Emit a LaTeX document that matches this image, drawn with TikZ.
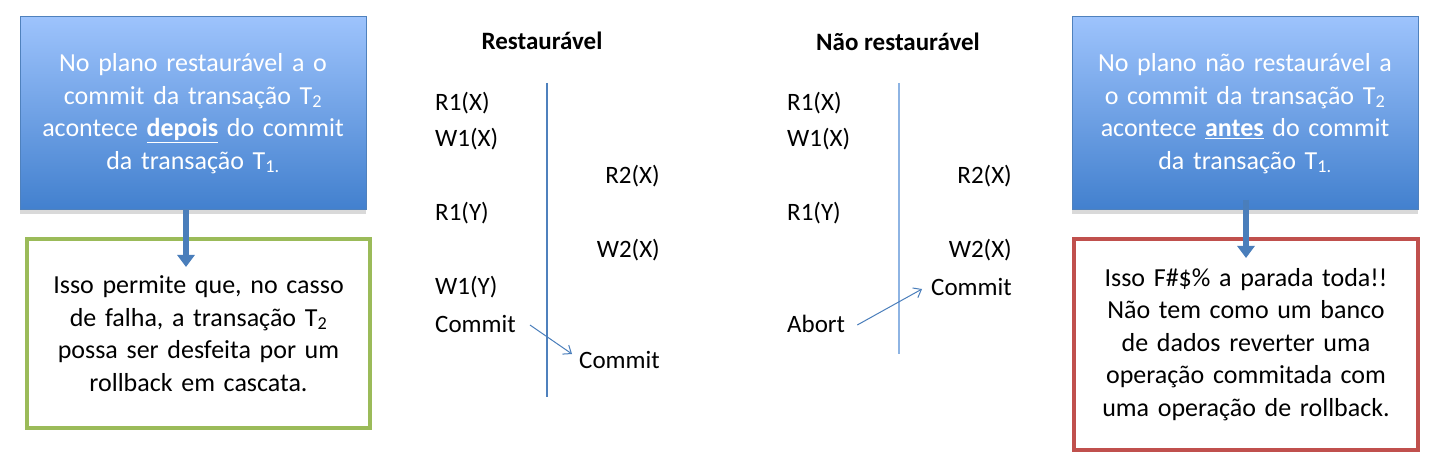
\documentclass[tikz,border=0pt]{standalone}
\usepackage{fontspec}
\setmainfont{Carlito}
\usetikzlibrary{arrows.meta,shadows}
\definecolor{boxtop}{RGB}{157,195,252}
\definecolor{boxbottom}{RGB}{66,128,206}
\definecolor{boxline}{RGB}{79,129,189}
\definecolor{okline}{RGB}{155,187,89}
\definecolor{badline}{RGB}{192,80,77}
\definecolor{flowarrow}{RGB}{74,126,187}
\definecolor{timeline}{RGB}{79,129,189}
\definecolor{timelinelight}{RGB}{142,180,227}
\begin{document}
\begin{tikzpicture}[x=1pt,y=-1pt,>={Straight Barb[length=7pt,width=11pt]}]
	\tikzstyle{planbox}=[rectangle,draw=boxline,line width=1pt,top color=boxtop,bottom color=boxbottom,text=white,minimum width=346pt,minimum height=193pt,text width=336pt,align=center,inner sep=0pt,font=\fontsize{26}{32.5}\selectfont,drop shadow={opacity=0.3,shadow xshift=0pt,shadow yshift=-4pt}]
	%\tikzstyle{planbox}=[rectangle,draw=boxline,fill=boxbottom,text=white,minimum width=346pt,minimum height=193pt]
	\tikzstyle{notebox}=[rectangle,line width=4pt,fill=white,text=black,text width=330pt,align=center,inner sep=0pt,font=\fontsize{26}{32.5}\selectfont]
	\tikzstyle{head}=[inner sep=0pt,font=\fontsize{25}{30}\selectfont\bfseries]
	\tikzstyle{op}=[inner sep=0pt,font=\fontsize{25}{30}\selectfont]
	\tikzstyle{flow}=[draw=flowarrow,line width=1pt]
	\tikzstyle{bigarrow}=[draw=flowarrow,line width=6pt,-{Triangle[length=12pt,width=17pt]}]
	\useasboundingbox (0,0) rectangle (1436,470);
	% boxes
	\node[planbox] (L-plan) at (193,113.5) {No plano restaurável a o\\commit da transação T\textsubscript{2}\\acontece \underline{\textbf{depois}} do commit\\da transação T\textsubscript{1.}};
	\node[notebox,draw=okline,minimum width=343pt,minimum height=189pt] (L-why) at (198.5,333.5) {Isso permite que, no casso\\de falha, a transação T\textsubscript{2}\\possa ser desfeita por um\\rollback em cascata.};
	\node[planbox] (R-plan) at (1245,113.5) {No plano não restaurável a\\o commit da transação T\textsubscript{2}\\acontece \underline{\textbf{antes}} do commit\\da transação T\textsubscript{1.}};
	\node[notebox,draw=badline,minimum width=344pt,minimum height=211pt] (R-why) at (1246,344.5) {Isso F\#\$\% a parada toda!!\\Não tem como um banco\\de dados reverter uma\\operação commitada com\\uma operação de rollback.};
	\coordinate (L-tip) at (186,267);
	\coordinate (R-from) at (1246,200);
	\coordinate (R-tip) at (1246,258);
	\draw[bigarrow] (L-plan.south -| L-tip) -- (L-tip);
	\draw[bigarrow] (R-from) -- (R-tip);
	% restauravel
	\node[head] (R-title) at (542,41) {Restaurável};
	\draw[timeline,line width=1.2pt] (547,83) -- (547,397);
	\node[op,anchor=west] (R-r1x) at (435,103) {R1(X)};
	\node[op,anchor=west] (R-w1x) at (435,139.5) {W1(X)};
	\node[op,anchor=east] (R-r2x) at (660,176.5) {R2(X)};
	\node[op,anchor=west] (R-r1y) at (435,213.5) {R1(Y)};
	\node[op,anchor=east] (R-w2x) at (660,250.5) {W2(X)};
	\node[op,anchor=west] (R-w1y) at (435,287) {W1(Y)};
	\node[op,anchor=west] (R-commit1) at (435,323.5) {Commit};
	\node[op,anchor=east] (R-commit2) at (660,360) {Commit};
	\draw[flow,->] ([xshift=14pt,yshift=-1.5pt]R-commit1.east) -- ([xshift=-7pt,yshift=6pt]R-commit2.west);
	% nao restauravel
	\node[head] (N-title) at (898,42) {Não restaurável};
	\draw[timelinelight,line width=1.2pt] (899,83) -- (899,354);
	\node[op,anchor=west] (N-r1x) at (787,103) {R1(X)};
	\node[op,anchor=west] (N-w1x) at (787,139.5) {W1(X)};
	\node[op,anchor=east] (N-r2x) at (1012,176.5) {R2(X)};
	\node[op,anchor=west] (N-r1y) at (787,213.5) {R1(Y)};
	\node[op,anchor=east] (N-w2x) at (1012,250.5) {W2(X)};
	\node[op,anchor=east] (N-commit2) at (1012,287) {Commit};
	\node[op,anchor=west] (N-abort) at (787,323.5) {Abort};
	\draw[flow,->] ([xshift=12pt,yshift=-1.5pt]N-abort.east) -- ([xshift=-9pt,yshift=-2pt]N-commit2.west);
\end{tikzpicture}
\end{document}
